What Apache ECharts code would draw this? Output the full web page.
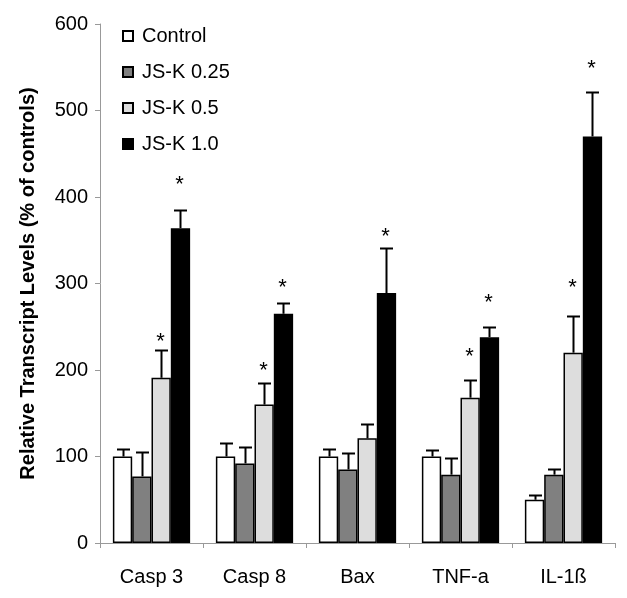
<!DOCTYPE html>
<html><head><meta charset="utf-8">
<script src="https://cdn.jsdelivr.net/npm/echarts@6/dist/echarts.min.js"></script>
<style>html,body{margin:0;padding:0;background:#fff}#c{width:627px;height:598px}</style>
</head><body><div id="c"></div>
<script>
// ---- data ----
const categories = ['Casp 3', 'Casp 8', 'Bax', 'TNF-a', 'IL-1ß'];
const seriesNames = ['Control', 'JS-K 0.25', 'JS-K 0.5', 'JS-K 1.0'];
const control    = [100, 100, 100, 100, 50];
const jsk025     = [77, 92, 85, 79, 79];
const jsk05      = [191, 160, 121, 168, 220];
const jsk10      = [364, 265, 289, 238, 470];
const controlErr = [9, 16, 9, 8, 6];
const jsk025Err  = [28, 19, 19, 19, 6];
const jsk05Err   = [32, 25, 16, 20, 42];
const jsk10Err   = [21, 13, 52, 12, 51];
// asterisk (significance marker) heights, null = not significant
const controlStar = [null, null, null, null, null];
const jsk025Star  = [null, null, null, null, null];
const jsk05Star   = [238, 205, null, 221, 301];
const jsk10Star   = [420, 301, 360, 283, 554];
const yTicks = { min: 0, max: 600, interval: 100 };

// ---- chart ----
const FONT = '"Liberation Sans", Arial, sans-serif';
const values = [control, jsk025, jsk05, jsk10];
const errors = [controlErr, jsk025Err, jsk05Err, jsk10Err];
const stars = [controlStar, jsk025Star, jsk05Star, jsk10Star];
const colors = ['#ffffff', '#808080', '#dddddd', '#000000'];
const CAT_GAP = 0.25;

function errRender(si) {
  return function (params, api) {
    const ci = api.value(0), v = api.value(1), e = api.value(2), s = api.value(3);
    const band = api.size([1, 0])[0];
    const group = band * (1 - CAT_GAP);
    const bw = group / 4;
    const base = api.coord([ci, 0]);
    const cx = Math.round(base[0] - group / 2 + bw * (si + 0.5)) + 0.5;
    const y0 = api.coord([ci, v])[1];
    const y1 = Math.round(api.coord([ci, v + e])[1]) + 0.5;
    const lineStyle = { stroke: '#000', lineWidth: 2 };
    const children = [
      { type: 'line', shape: { x1: cx, y1: y0, x2: cx, y2: y1 }, style: lineStyle },
      { type: 'line', shape: { x1: cx - 6.5, y1: y1, x2: cx + 6.5, y2: y1 }, style: lineStyle }
    ];
    if (!isNaN(s)) {
      const ys = api.coord([ci, s])[1];
      children.push({ type: 'text', style: { text: '*', x: cx - 1, y: ys + 5, fontSize: 22, fontFamily: FONT, fill: '#000', align: 'center', verticalAlign: 'middle' } });
    }
    return { type: 'group', children: children };
  };
}

const series = [];
seriesNames.forEach(function (name, si) {
  series.push({
    name: name, type: 'bar', data: values[si],
    barGap: 0, barCategoryGap: (CAT_GAP * 100) + '%',
    itemStyle: { color: colors[si], borderColor: '#000', borderWidth: 1.5 },
    emphasis: { disabled: true }, animation: false
  });
});
seriesNames.forEach(function (name, si) {
  series.push({
    type: 'custom', z: 5, animation: false, silent: true,
    renderItem: errRender(si),
    data: values[si].map(function (v, i) { return [i, v, errors[si][i], stars[si][i] == null ? '-' : stars[si][i]]; })
  });
});

const chart = echarts.init(document.getElementById('c'), null, { renderer: 'canvas' });
chart.setOption({
  animation: false,
  backgroundColor: '#fff',
  grid: { left: 100, right: 12, top: 24, bottom: 55, containLabel: false },
  legend: {
    data: seriesNames, orient: 'vertical', left: 117, top: 21,
    icon: 'rect', itemWidth: 10, itemHeight: 10, itemGap: 16,
    textStyle: { fontSize: 20, fontFamily: FONT, color: '#000', padding: [0, 0, 0, 4] },
    selectedMode: false
  },
  xAxis: {
    type: 'category', data: categories,
    axisLine: { lineStyle: { color: '#999', width: 1 } },
    axisTick: { show: true, length: 5, lineStyle: { color: '#999' } },
    axisLabel: { fontSize: 20, fontFamily: FONT, color: '#000', margin: 24 }
  },
  yAxis: {
    type: 'value', min: yTicks.min, max: yTicks.max, interval: yTicks.interval,
    name: 'Relative Transcript Levels (% of controls)', nameLocation: 'middle', nameGap: 62,
    nameTextStyle: { fontSize: 20, fontWeight: 'bold', fontFamily: FONT, color: '#000' },
    axisLine: { show: true, lineStyle: { color: '#999', width: 1 } },
    axisTick: { show: true, length: 5, lineStyle: { color: '#999' } },
    splitLine: { show: false },
    axisLabel: { fontSize: 20, fontFamily: FONT, color: '#000', margin: 12 }
  },
  series: series
});
</script>
</body></html>
